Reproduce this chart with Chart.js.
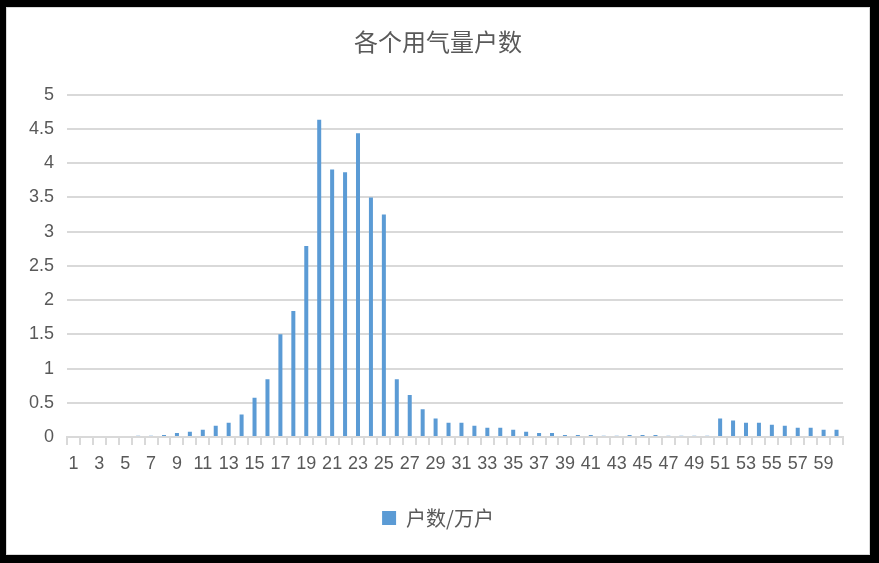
<!DOCTYPE html>
<html>
<head>
<meta charset="utf-8">
<script src="https://cdn.jsdelivr.net/npm/chart.js@4.4.1/dist/chart.umd.min.js"></script>
<style>
    html, body { margin: 0; padding: 0; background: #000; }
    body { width: 879px; height: 563px; position: relative; overflow: hidden; }
    #box {
        position: absolute; left: 6px; top: 7px;
        width: 862px; height: 546px;
        background: #fff; border: 1px solid #d9d9d9;
    }
    #wrap { position: absolute; left: 0; top: 0; width: 862px; height: 546px; }
</style>
</head>
<body>
<div id="box"><div id="wrap"><canvas id="gasChart"></canvas></div></div>
<script>
// ✅ Chart data
const chartTitle = "各个用气量户数";
const seriesName = "户数/万户";
const categories = [];
for (let i = 1; i <= 60; i++) categories.push(String(i));

const households = [
    0, 0, 0, 0, 0, 0.02, 0.02, 0.03, 0.06, 0.075,
    0.105, 0.165, 0.21, 0.33, 0.575, 0.845, 1.5, 1.84, 2.79, 4.635,
    3.91, 3.87, 4.44, 3.5, 3.25, 0.845, 0.615, 0.405, 0.27, 0.21,
    0.21, 0.165, 0.135, 0.135, 0.105, 0.075, 0.06, 0.06, 0.03, 0.03,
    0.03, 0.02, 0.02, 0.03, 0.03, 0.03, 0.02, 0.02, 0.02, 0.02,
    0.27, 0.24, 0.21, 0.21, 0.18, 0.165, 0.135, 0.135, 0.105, 0.105
];

const yMin = 0;
const yMax = 5;
const yStep = 0.5;

const textColor = "#595959";
const gridColor = "#d9d9d9";
const barColor = "#5B9BD5";

const ctx = document.getElementById("gasChart").getContext("2d");

new Chart(ctx, {
    type: "bar",
    data: {
        labels: categories,
        datasets: [{
            label: seriesName,
            data: households,
            backgroundColor: barColor,
            borderWidth: 0,
            barPercentage: 0.31,
            categoryPercentage: 1.0
        }]
    },
    options: {
        responsive: true,
        maintainAspectRatio: false,
        animation: false,
        layout: {
            padding: { left: 0, right: 0, top: 0, bottom: 16 }
        },
        plugins: {
            title: {
                display: true,
                text: chartTitle,
                color: textColor,
                font: { family: "'Noto Sans CJK SC', sans-serif", size: 24, weight: "normal" },
                padding: { top: 19, bottom: 39 }
            },
            legend: {
                display: true,
                position: "bottom",
                labels: {
                    color: textColor,
                    boxWidth: 14,
                    boxHeight: 14,
                    font: { family: "'Noto Sans CJK SC', sans-serif", size: 20 }
                }
            },
            tooltip: { enabled: false }
        },
        scales: {
            x: {
                grid: {
                    display: true,
                    offset: true,
                    drawOnChartArea: false,
                    drawTicks: true,
                    tickLength: 8,
                    color: gridColor,
                    lineWidth: 2
                },
                border: { display: true, color: gridColor, width: 2 },
                ticks: {
                    color: textColor,
                    autoSkip: false,
                    maxRotation: 0,
                    padding: 8,
                    font: { family: "'Liberation Sans', sans-serif", size: 18 },
                    callback: function(value, index) {
                        return index % 2 === 0 ? categories[index] : "";
                    }
                },
                afterFit: function(scale) { scale.height = 61; }
            },
            y: {
                min: yMin,
                max: yMax,
                ticks: {
                    stepSize: yStep,
                    color: textColor,
                    padding: 13,
                    font: { family: "'Liberation Sans', sans-serif", size: 18 },
                    callback: function(value) { return String(value); }
                },
                grid: {
                    color: gridColor,
                    lineWidth: 2,
                    drawTicks: false
                },
                border: { display: false },
                afterFit: function(scale) { scale.width = 60; }
            },
            // ✅ Empty right axis, only keeps the plot area off the right edge
            yRight: {
                type: "linear",
                position: "right",
                min: yMin,
                max: yMax,
                ticks: { display: false },
                grid: { display: false, drawTicks: false },
                border: { display: false },
                afterFit: function(scale) { scale.width = 26; }
            }
        }
    }
});
</script>
</body>
</html>
